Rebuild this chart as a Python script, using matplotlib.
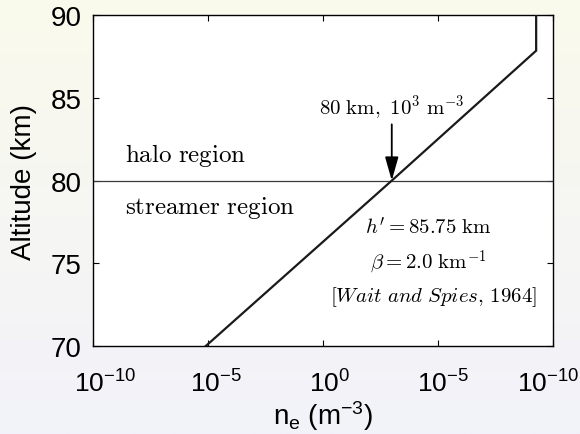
import numpy as np
import matplotlib
matplotlib.use("Agg")
import matplotlib.pyplot as plt
from matplotlib.colors import to_rgb
from matplotlib.transforms import ScaledTranslation

# Electron density profile (Wait & Spies) and annotations
altitude_km = [70.0, 80.0, 87.85, 90.0]
density_m3 = [8.1e-6, 1.0e3, 1.9e9, 1.9e9]

boundary_altitude = 80.0
marker_density = 1.0e3
arrow_tail_altitude = 83.4

xtick_values = [1e-10, 1e-5, 1e0, 1e5, 1e10]
xtick_labels = [r"$10^{-10}$", r"$10^{-5}$", r"$10^{0}$", r"$10^{-5}$", r"$10^{-10}$"]
ytick_values = [70, 75, 80, 85, 90]

plt.rcParams["font.family"] = ["Liberation Sans", "DejaVu Sans"]
plt.rcParams["mathtext.fontset"] = "custom"
plt.rcParams["mathtext.rm"] = "Liberation Sans"
plt.rcParams["mathtext.it"] = "Liberation Sans:italic"
plt.rcParams["mathtext.bf"] = "Liberation Sans:bold"

fig = plt.figure(figsize=(5.8, 4.35), dpi=100)

# soft vertical gradient behind everything
bg = fig.add_axes([0, 0, 1, 1], zorder=-10)
top_c = np.array(to_rgb("#fafaec"))
bot_c = np.array(to_rgb("#f2f2fa"))
t = np.linspace(0, 1, 256)[:, None, None]
grad = top_c * (1 - t) + bot_c * t
grad = np.repeat(grad, 2, axis=1)
bg.imshow(grad, aspect="auto", extent=[0, 1, 0, 1], origin="upper")
bg.set_axis_off()

ax = fig.add_axes([0.160, 0.202, 0.793, 0.761])
ax.set_facecolor("white")

ax.plot(density_m3, altitude_km, color="#1a1a1a", lw=1.6, solid_joinstyle="miter", zorder=3)
ax.axhline(boundary_altitude, color="#3a3a3a", lw=0.9, zorder=2)

ax.annotate("", xy=(marker_density, boundary_altitude),
            xytext=(marker_density, arrow_tail_altitude),
            arrowprops=dict(arrowstyle="-|>,head_length=0.6,head_width=0.17",
                            color="black", lw=1.3, mutation_scale=24,
                            shrinkA=0, shrinkB=0), zorder=4)

ax.set_xscale("log")
ax.set_xlim(1e-10, 1e10)
ax.set_ylim(70, 90)
ax.set_xticks(xtick_values)
ax.set_xticklabels(xtick_labels)
ax.xaxis.set_minor_locator(matplotlib.ticker.NullLocator())
ax.set_yticks(ytick_values)

ax.tick_params(axis="both", which="major", direction="in", length=4, width=0.8,
               top=True, right=True, labelsize=20, colors="black")
ax.tick_params(axis="x", pad=17, labelsize=19)
ax.tick_params(axis="y", pad=8)
for s in ax.spines.values():
    s.set_linewidth(1.0)
    s.set_color("black")

# nudge the power-of-ten labels so the base "10" sits under each tick
label_shift_pt = [9, 6, 5, 4, -3]
for lab, dx in zip(ax.get_xticklabels(), label_shift_pt):
    lab.set_transform(lab.get_transform() + ScaledTranslation(dx / 72, 0, fig.dpi_scale_trans))

ax.set_ylabel("Altitude (km)", fontsize=20, labelpad=10)
ax.set_xlabel(r"n$_\mathrm{e}$ (m$^\mathrm{-3}$)", fontsize=20, labelpad=1)

cm_kw = dict(math_fontfamily="cm", color="black")
ax.text(marker_density, 84.45, r"$\mathrm{80\ km,\ 10^3\ m^{-3}}$", fontsize=15,
        ha="center", va="center", **cm_kw)
ax.text(10 ** -8.6, 81.6, r"$\mathrm{halo\ region}$", fontsize=18,
        ha="left", va="center", **cm_kw)
ax.text(10 ** -8.6, 78.4, r"$\mathrm{streamer\ region}$", fontsize=18,
        ha="left", va="center", **cm_kw)
ax.text(10 ** 4.6, 77.2, r"$h' = 85.75\ \mathrm{km}$", fontsize=15,
        ha="center", va="center", **cm_kw)
ax.text(10 ** 4.6, 75.15, r"$\beta = 2.0\ \mathrm{km}^{-1}$", fontsize=15,
        ha="center", va="center", **cm_kw)
ax.text(10 ** 4.8, 73.05, r"$[\mathit{Wait\ and\ Spies},\,\mathrm{1964}]$", fontsize=15,
        ha="center", va="center", **cm_kw)

fig.savefig("out.png", dpi=100)
